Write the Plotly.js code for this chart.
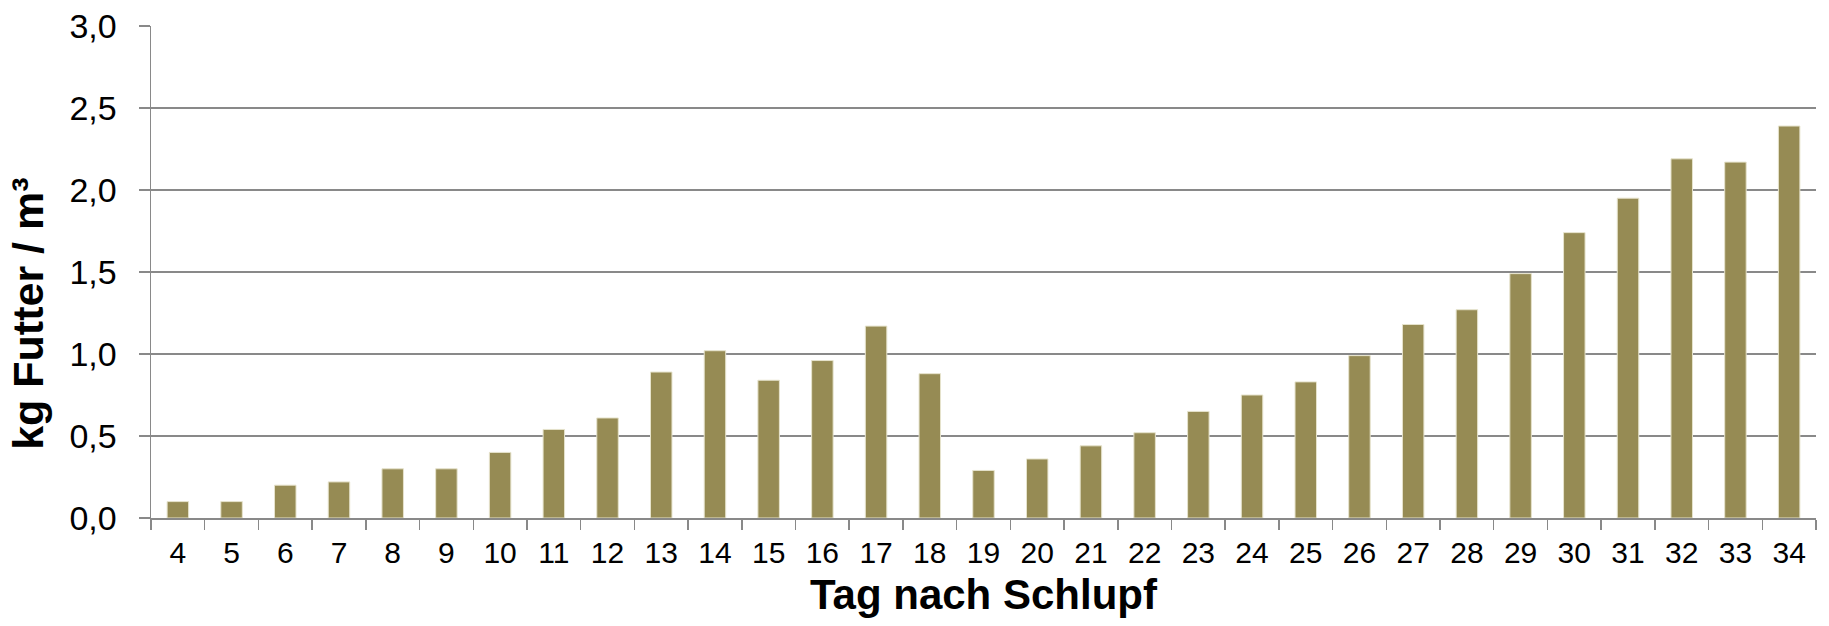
<!DOCTYPE html>
<html>
<head>
<meta charset="utf-8">
<script src="https://cdn.plot.ly/plotly-3.0.1.min.js"></script>
<style>
  html, body { margin: 0; padding: 0; background: #ffffff; }
  #chart { width: 1829px; height: 626px; }
</style>
</head>
<body>
<div id="chart"></div>
<script>
// Days after hatching (categories)
const days = ['4','5','6','7','8','9','10','11','12','13','14','15','16','17','18','19','20','21','22','23','24','25','26','27','28','29','30','31','32','33','34'];
// kg feed per m³
const feed = [0.10, 0.10, 0.20, 0.22, 0.30, 0.30, 0.40, 0.54, 0.61, 0.89, 1.02, 0.84, 0.96, 1.17, 0.88, 0.29, 0.36, 0.44, 0.52, 0.65, 0.75, 0.83, 0.99, 1.18, 1.27, 1.49, 1.74, 1.95, 2.19, 2.17, 2.39];
// Axis tick values
const yTicks = [0, 0.5, 1.0, 1.5, 2.0, 2.5, 3.0];
const xTitle = 'Tag nach Schlupf';
const yTitle = 'kg Futter / m³';

const FONT = '"Liberation Sans", Arial, Helvetica, sans-serif';
const GRID = '#898989';

const trace = {
  type: 'bar',
  x: days,
  y: feed,
  marker: { color: '#968b54', line: { color: '#e6e3cc', width: 1 } },
  hoverinfo: 'x+y'
};

const layout = {
  width: 1829,
  height: 626,
  margin: { l: 151, r: 13, t: 26, b: 108, pad: 0 },
  paper_bgcolor: '#ffffff',
  plot_bgcolor: '#ffffff',
  separators: ',.',
  bargap: 0.6,
  showlegend: false,
  font: { family: FONT, color: '#000000' },
  xaxis: {
    type: 'category',
    tickson: 'boundaries',
    ticks: 'outside',
    ticklen: 10,
    tickwidth: 1.5,
    tickcolor: GRID,
    showline: true,
    linecolor: GRID,
    linewidth: 1.5,
    showgrid: false,
    tickfont: { family: FONT, size: 30, color: '#000000' },
    ticklabelstandoff: 7,
    title: { text: xTitle, font: { family: FONT, size: 42, color: '#000000', weight: 'bold' }, standoff: 12 }
  },
  yaxis: {
    range: [0, 3.0],
    tickvals: yTicks,
    tickformat: '.1f',
    ticks: 'outside',
    ticklen: 11,
    tickwidth: 1.5,
    tickcolor: GRID,
    showline: true,
    linecolor: GRID,
    linewidth: 1.5,
    showgrid: true,
    gridcolor: GRID,
    gridwidth: 1.5,
    zeroline: false,
    tickfont: { family: FONT, size: 34, color: '#000000' },
    ticklabelstandoff: 15
  },
  annotations: [{
    text: '<b>' + yTitle + '</b>',
    textangle: -90,
    xref: 'paper', yref: 'paper',
    x: (28.5 - 151) / 1665,
    y: (517.7 - 314) / 492,
    xanchor: 'center', yanchor: 'middle',
    showarrow: false,
    font: { family: FONT, size: 43, color: '#000000' }
  }]
};

Plotly.newPlot('chart', [trace], layout, { staticPlot: true, displayModeBar: false });
</script>
</body>
</html>
